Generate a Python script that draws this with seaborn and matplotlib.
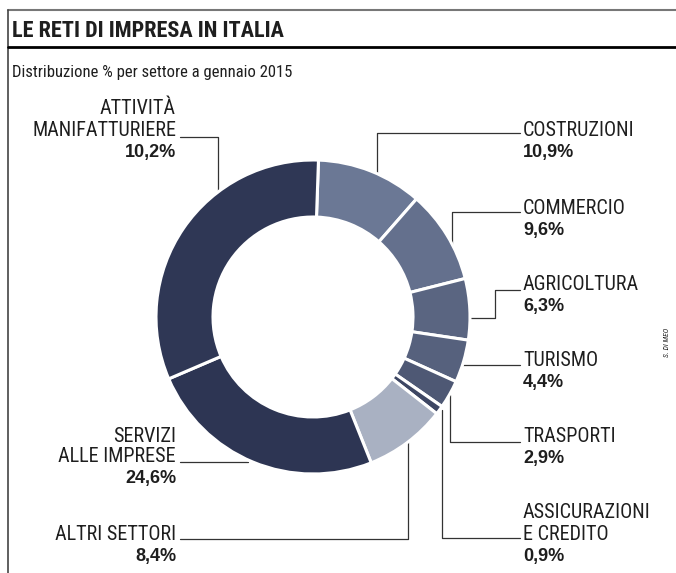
import matplotlib
matplotlib.use('Agg')
import matplotlib.pyplot as plt
from matplotlib import font_manager as fm
import seaborn as sns

# dati (senso orario dalle ore 12)
settori = ['COSTRUZIONI', 'COMMERCIO', 'AGRICOLTURA', 'TURISMO', 'TRASPORTI',
           'ASSICURAZIONI\nE CREDITO', 'ALTRI SETTORI', 'SERVIZI\nALLE IMPRESE',
           'ATTIVITÀ\nMANIFATTURIERE']
# la fetta delle attivita' manifatturiere nel disegno vale circa 32%,
# anche se l'etichetta stampata dice 10,2%
quote = [10.9, 9.6, 6.3, 4.4, 2.9, 0.9, 8.4, 24.6, 32.0]
etichette = ['10,9%', '9,6%', '6,3%', '4,4%', '2,9%', '0,9%', '8,4%', '24,6%', '10,2%']
colori = ['#6b7895', '#64708d', '#5a6581', '#56617d', '#4e5874',
          '#3d4663', '#a9b1c2', '#2d3553', '#2f3755']

sns.set_theme(style='white')

disponibili = {f.name for f in fm.fontManager.ttflist}
stretto = 'DejaVu Sans'
for nome in ['Liberation Sans Narrow', 'Roboto Condensed', 'Open Sans Condensed', 'DejaVu Sans Condensed']:
    if nome in disponibili:
        stretto = nome
        break
plt.rcParams['font.family'] = [stretto, 'DejaVu Sans']
grassetto = ['Liberation Sans', 'DejaVu Sans']
testo = '#1e1e1e'

W, H = 676, 573
fig = plt.figure(figsize=(W / 100, H / 100), dpi=100)
ax = fig.add_axes([0, 0, 1, 1])

# ciambella (asse y invertito: coordinate in pixel dall'alto)
ax.pie(quote, colors=colori, startangle=-88, counterclock=True,
       center=(313, 317), radius=157,
       wedgeprops=dict(width=57, edgecolor='white', linewidth=2.2))
ax.set_xlim(0, W)
ax.set_ylim(H, 0)
ax.set_aspect('equal')
ax.axis('off')

# cornice e titolo
ax.plot([8, W], [10, 10], color='#777777', lw=1.5)
ax.plot([8, 8], [10, H], color='#444444', lw=1.2)
ax.plot([8, W], [47, 47], color='black', lw=2)
ax.text(12, 31, 'LE RETI DI IMPRESA IN ITALIA', fontsize=16, fontweight='bold',
        color=testo, ha='left', va='center')
ax.text(12, 73, 'Distribuzione % per settore a gennaio 2015', fontsize=12,
        color=testo, ha='left', va='center')
ax.text(667, 342, 'S. DI MEO', fontsize=5.5, style='italic', rotation=90,
        color=testo, ha='center', va='center')

# posizione etichette: x, y dell'ultima riga del nome, allineamento
posizioni = [(523, 130, 'left'), (523, 208, 'left'), (523, 284, 'left'),
             (523, 360, 'left'), (523, 437, 'left'), (523, 534, 'left'),
             (176, 535, 'right'), (176, 457, 'right'), (176, 130, 'right')]
linee_guida = [
    [(520, 133), (377, 133), (377, 185)],
    [(520, 212), (452, 212), (452, 250)],
    [(520, 290), (495, 290), (495, 318), (465, 318)],
    [(520, 365), (458, 365)],
    [(520, 442), (450, 442), (450, 395)],
    [(520, 538), (442, 538), (442, 410)],
    [(180, 539), (408, 539), (408, 437)],
    [(180, 462), (248, 462)],
    [(180, 137), (218, 137), (218, 193)],
]

for nome, pct, (x, y, ha), guida in zip(settori, etichette, posizioni, linee_guida):
    righe = nome.split('\n')
    for i, riga in enumerate(reversed(righe)):
        ax.text(x, y - i * 21, riga, fontsize=14.5, color=testo, ha=ha, va='center')
    ax.text(x, y + 22, pct, fontsize=13, fontweight='bold', family=grassetto,
            color=testo, ha=ha, va='center')
    xs = [p[0] for p in guida]
    ys = [p[1] for p in guida]
    ax.plot(xs, ys, color='#333333', lw=0.9, zorder=0)

fig.savefig('out.png', dpi=100)
